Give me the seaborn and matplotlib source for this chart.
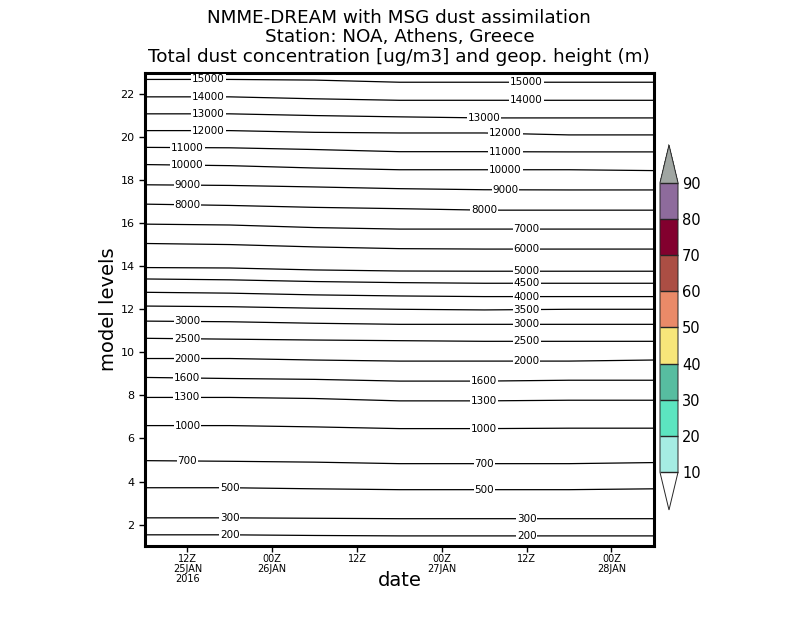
import numpy as np
import pandas as pd
import matplotlib
matplotlib.use('Agg')
import matplotlib.pyplot as plt
import seaborn as sns
from matplotlib.colors import ListedColormap, BoundaryNorm
from matplotlib.cm import ScalarMappable

# hours since 06Z 25JAN2016
hours = [0, 12, 24, 36, 48, 60, 72]

# geopotential height contours (m) and their model-level position at each time
heights = [15000, 14000, 13000, 12000, 11000, 10000, 9000, 8000, 7000, 6000,
           5000, 4500, 4000, 3500, 3000, 2500, 2000, 1600, 1300, 1000, 700, 500, 300, 200]
levels = [
    [22.70, 22.70, 22.67, 22.57, 22.57, 22.57, 22.57],
    [21.89, 21.89, 21.80, 21.73, 21.73, 21.73, 21.73],
    [21.10, 21.10, 21.02, 20.96, 20.91, 20.91, 20.91],
    [20.32, 20.32, 20.24, 20.21, 20.21, 20.12, 20.12],
    [19.54, 19.52, 19.44, 19.34, 19.34, 19.33, 19.33],
    [18.74, 18.69, 18.58, 18.50, 18.50, 18.50, 18.46],
    [17.80, 17.77, 17.70, 17.62, 17.57, 17.56, 17.56],
    [16.90, 16.84, 16.75, 16.69, 16.62, 16.62, 16.62],
    [15.97, 15.93, 15.81, 15.74, 15.74, 15.74, 15.74],
    [15.07, 15.02, 14.91, 14.83, 14.81, 14.81, 14.81],
    [13.95, 13.93, 13.84, 13.79, 13.78, 13.78, 13.78],
    [13.42, 13.38, 13.30, 13.25, 13.22, 13.22, 13.22],
    [12.80, 12.76, 12.68, 12.63, 12.60, 12.60, 12.60],
    [12.16, 12.13, 12.06, 12.01, 11.98, 12.01, 12.01],
    [11.46, 11.43, 11.36, 11.31, 11.31, 11.31, 11.31],
    [10.66, 10.62, 10.58, 10.55, 10.52, 10.52, 10.52],
    [9.72, 9.72, 9.65, 9.60, 9.60, 9.60, 9.65],
    [8.84, 8.79, 8.75, 8.67, 8.67, 8.71, 8.71],
    [7.91, 7.91, 7.86, 7.75, 7.75, 7.78, 7.78],
    [6.60, 6.60, 6.54, 6.46, 6.46, 6.48, 6.48],
    [4.97, 4.94, 4.90, 4.83, 4.83, 4.83, 4.88],
    [3.71, 3.71, 3.66, 3.62, 3.62, 3.62, 3.66],
    [2.31, 2.31, 2.29, 2.27, 2.27, 2.27, 2.27],
    [1.52, 1.52, 1.49, 1.47, 1.47, 1.47, 1.47],
]

# where GrADS put the contour labels (hours), None = no label on that side
label_left = [9, 9, 9, 9, 6, 6, 6, 6, None, None, None, None, None, None,
              6, 6, 6, 6, 6, 6, 6, 12, 12, 12]
label_right = [54, 54, 48, 51, 51, 51, 51, 48, 54, 54, 54, 54, 54, 54,
               54, 54, 54, 48, 48, 48, 48, 48, 54, 54]

tick_hours = [6, 18, 30, 42, 54, 66]
tick_labels = ['12Z\n25JAN\n2016', '00Z\n26JAN', '12Z', '00Z\n27JAN', '12Z', '00Z\n28JAN']

dust_bounds = [10, 20, 30, 40, 50, 60, 70, 80, 90]
dust_colors = ['#a5ece3', '#5ce5c0', '#57bda0', '#f7e67a', '#ea8a68',
               '#ab4e44', '#82002e', '#8e6b9c']
dust_over = '#a0a6a2'

rows = []
for h, lv in zip(heights, levels):
    for t, l in zip(hours, lv):
        rows.append({'hour': t, 'level': l, 'height': h})
df = pd.DataFrame(rows)

sns.set_style('white')
plt.rcParams['font.family'] = ['DejaVu Sans']
plt.rcParams['text.color'] = 'black'
plt.rcParams['axes.labelcolor'] = 'black'
plt.rcParams['xtick.color'] = 'black'
plt.rcParams['ytick.color'] = 'black'

fig = plt.figure(figsize=(8, 6.18), dpi=100)
ax = fig.add_axes([0.18125, 0.1165, 0.636, 0.7654])

sns.lineplot(data=df, x='hour', y='level', units='height', estimator=None,
             color='black', lw=0.9, ax=ax, legend=False)

for h, lv, xl, xr in zip(heights, levels, label_left, label_right):
    for xp in (xl, xr):
        if xp is None:
            continue
        yp = np.interp(xp, hours, lv)
        ax.text(xp, yp, str(h), fontsize=7.5, ha='center', va='center',
                bbox=dict(facecolor='white', edgecolor='none', pad=0.6))

ax.set_xlim(0, 72)
ax.set_ylim(1, 23)
ax.set_yticks(range(2, 23, 2))
ax.set_xticks(tick_hours)
ax.set_xticklabels(tick_labels, fontsize=7, linespacing=0.95)
ax.tick_params(axis='y', labelsize=8, length=4, width=1, direction='out', left=True)
ax.tick_params(axis='x', length=4, width=1, direction='out', bottom=True, pad=2)
for s in ax.spines.values():
    s.set_linewidth(2.2)
    s.set_color('black')
ax.set_xlabel('date', fontsize=14, labelpad=-9)
ax.set_ylabel('model levels', fontsize=14, labelpad=2)
ax.set_title('NMME-DREAM with MSG dust assimilation\nStation: NOA, Athens, Greece\n'
             'Total dust concentration [ug/m3] and geop. height (m)',
             fontsize=13.2, linespacing=1.12, pad=8)

cmap = ListedColormap(dust_colors)
cmap.set_over(dust_over)
cmap.set_under('white')
norm = BoundaryNorm(dust_bounds, cmap.N)
cax = fig.add_axes([0.825, 0.1748, 0.0225, 0.5906])
cb = fig.colorbar(ScalarMappable(norm=norm, cmap=cmap), cax=cax, extend='both',
                  extendfrac=0.13, drawedges=True, ticks=dust_bounds)
cb.outline.set_linewidth(0.7)
cb.dividers.set_linewidth(1.0)
cb.ax.tick_params(labelsize=10.5, length=0, pad=3)

fig.savefig('out.png', dpi=100)
